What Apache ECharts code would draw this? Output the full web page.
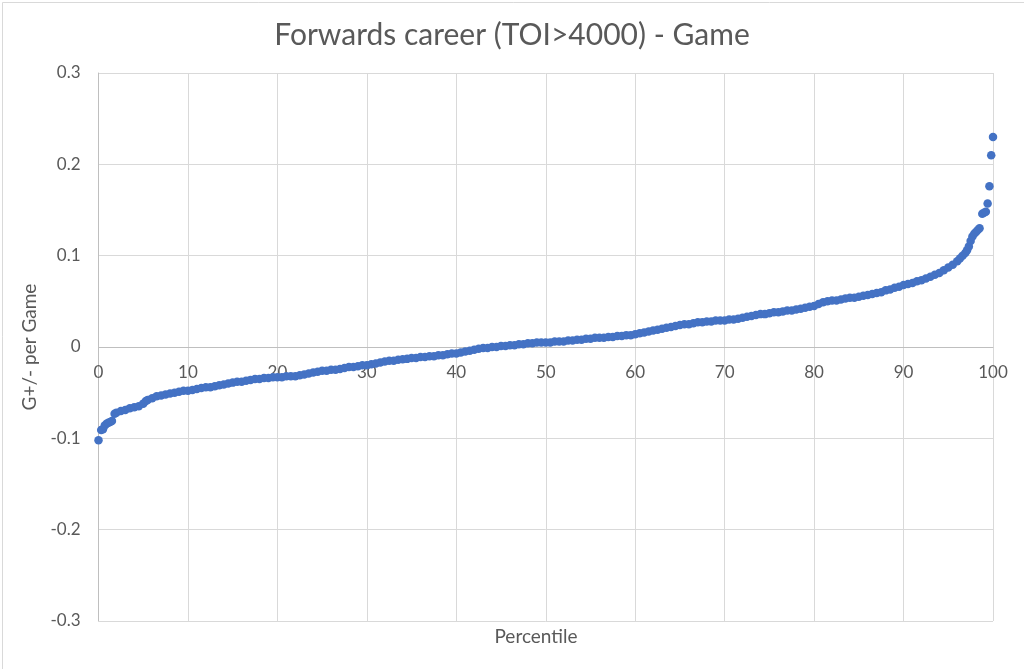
<!DOCTYPE html>
<html>
<head>
<meta charset="utf-8">
<script src="https://cdn.jsdelivr.net/npm/echarts@6/dist/echarts.min.js"></script>
<style>html,body{margin:0;padding:0;background:#fff;}#c{width:1024px;height:669px;}</style>
</head>
<body>
<div id="c"></div>
<script>
var titleText = 'Forwards career (TOI>4000) - Game';
var xAxisTitle = 'Percentile';
var yAxisTitle = 'G+/- per Game';
var xTicks = [0, 10, 20, 30, 40, 50, 60, 70, 80, 90, 100];
var yTicks = [-0.3, -0.2, -0.1, 0, 0.1, 0.2, 0.3];

var percentiles = [
  0.0, 0.3, 0.5, 0.7, 0.9, 1.1, 1.3, 1.5, 1.8, 2.0, 2.5, 3.0, 3.5, 4.0, 4.5, 5.0, 5.3, 5.5, 6.0, 6.5,
  7.0, 7.5, 8.0, 8.5, 9.0, 9.5, 10.0, 10.5, 11.0, 11.5, 12.0, 12.5, 13.0, 13.5, 14.0, 14.5, 15.0, 15.5, 16.0, 16.5,
  17.0, 17.5, 18.0, 18.5, 19.0, 19.5, 20.0, 20.5, 21.0, 21.5, 22.0, 22.5, 23.0, 23.5, 24.0, 24.5, 25.0, 25.5, 26.0, 26.5,
  27.0, 27.5, 28.0, 28.5, 29.0, 29.5, 30.0, 30.5, 31.0, 31.5, 32.0, 32.5, 33.0, 33.5, 34.0, 34.5, 35.0, 35.5, 36.0, 36.5,
  37.0, 37.5, 38.0, 38.5, 39.0, 39.5, 40.0, 40.5, 41.0, 41.5, 42.0, 42.5, 43.0, 43.5, 44.0, 44.5, 45.0, 45.5, 46.0, 46.5,
  47.0, 47.5, 48.0, 48.5, 49.0, 49.5, 50.0, 50.5, 51.0, 51.5, 52.0, 52.5, 53.0, 53.5, 54.0, 54.5, 55.0, 55.5, 56.0, 56.5,
  57.0, 57.5, 58.0, 58.5, 59.0, 59.5, 60.0, 60.5, 61.0, 61.5, 62.0, 62.5, 63.0, 63.5, 64.0, 64.5, 65.0, 65.5, 66.0, 66.5,
  67.0, 67.5, 68.0, 68.5, 69.0, 69.5, 70.0, 70.5, 71.0, 71.5, 72.0, 72.5, 73.0, 73.5, 74.0, 74.5, 75.0, 75.5, 76.0, 76.5,
  77.0, 77.5, 78.0, 78.5, 79.0, 79.5, 80.0, 80.5, 81.0, 81.5, 82.0, 82.5, 83.0, 83.5, 84.0, 84.5, 85.0, 85.5, 86.0, 86.5,
  87.0, 87.5, 88.0, 88.5, 89.0, 89.5, 90.0, 90.5, 91.0, 91.5, 92.0, 92.5, 93.0, 93.5, 94.0, 94.5, 95.0, 95.5, 96.0, 96.3,
  96.6, 96.9, 97.1, 97.3, 97.5, 97.7, 97.9, 98.1, 98.3, 98.5, 98.8, 99.0, 99.2, 99.4, 99.6, 99.8, 100.0
];
var gPerGame = [
  -0.102, -0.091, -0.090, -0.086, -0.084, -0.083, -0.082, -0.081, -0.073, -0.072, -0.070, -0.069, -0.067, -0.066, -0.065, -0.062, -0.059, -0.058, -0.056, -0.054,
  -0.053, -0.052, -0.051, -0.050, -0.049, -0.048, -0.048, -0.047, -0.046, -0.045, -0.044, -0.044, -0.043, -0.042, -0.041, -0.040, -0.039, -0.038, -0.038, -0.037,
  -0.036, -0.035, -0.035, -0.034, -0.034, -0.033, -0.033, -0.033, -0.032, -0.032, -0.032, -0.031, -0.030, -0.029, -0.028, -0.027, -0.026, -0.026, -0.025, -0.025,
  -0.024, -0.023, -0.022, -0.022, -0.021, -0.020, -0.020, -0.019, -0.018, -0.017, -0.016, -0.015, -0.015, -0.014, -0.0135, -0.013, -0.012, -0.012, -0.011, -0.011,
  -0.010, -0.010, -0.009, -0.009, -0.008, -0.007, -0.007, -0.006, -0.005, -0.004, -0.003, -0.002, -0.001, -0.001, 0.000, 0.000, 0.001, 0.001, 0.002, 0.002,
  0.003, 0.003, 0.004, 0.004, 0.005, 0.005, 0.005, 0.005, 0.006, 0.006, 0.006, 0.007, 0.007, 0.008, 0.008, 0.009, 0.009, 0.010, 0.010, 0.010,
  0.011, 0.011, 0.012, 0.012, 0.013, 0.013, 0.014, 0.015, 0.016, 0.017, 0.018, 0.019, 0.020, 0.021, 0.022, 0.023, 0.024, 0.025, 0.025, 0.026,
  0.027, 0.027, 0.028, 0.028, 0.029, 0.029, 0.029, 0.030, 0.030, 0.031, 0.032, 0.033, 0.034, 0.035, 0.036, 0.036, 0.037, 0.038, 0.038, 0.039,
  0.040, 0.040, 0.041, 0.042, 0.043, 0.044, 0.045, 0.047, 0.049, 0.050, 0.051, 0.051, 0.052, 0.053, 0.054, 0.054, 0.055, 0.056, 0.057, 0.058,
  0.059, 0.060, 0.062, 0.063, 0.065, 0.066, 0.068, 0.069, 0.070, 0.072, 0.073, 0.075, 0.077, 0.079, 0.081, 0.084, 0.087, 0.090, 0.094, 0.097,
  0.100, 0.103, 0.106, 0.110, 0.116, 0.121, 0.124, 0.126, 0.128, 0.130, 0.146, 0.147, 0.148, 0.157, 0.176, 0.210, 0.230
];

var points = percentiles.map(function (p, i) { return [p, gPerGame[i]]; });

var textColor = '#595959';
var fontFamily = 'Lato, "Open Sans", sans-serif';

var chart = echarts.init(document.getElementById('c'), null, { renderer: 'canvas' });
chart.setOption({
  backgroundColor: '#ffffff',
  animation: false,
  textStyle: { fontFamily: fontFamily },
  title: {
    text: titleText,
    left: 'center',
    top: 15,
    textStyle: { color: textColor, fontSize: 30, fontWeight: 'normal', fontFamily: fontFamily }
  },
  grid: { left: 98.5, right: 31, top: 73, bottom: 48, containLabel: false },
  xAxis: {
    type: 'value',
    min: xTicks[0],
    max: xTicks[xTicks.length - 1],
    interval: 10,
    axisLine: { show: true, onZero: true, lineStyle: { color: '#bfbfbf', width: 1 } },
    axisTick: { show: false },
    axisLabel: { color: textColor, fontSize: 17, margin: -257, fontFamily: fontFamily },
    splitLine: { show: true, lineStyle: { color: '#d9d9d9', width: 1 } }
  },
  yAxis: {
    type: 'value',
    min: yTicks[0],
    max: yTicks[yTicks.length - 1],
    interval: 0.1,
    name: yAxisTitle,
    nameLocation: 'middle',
    nameGap: 56,
    nameTextStyle: { color: textColor, fontSize: 19, fontFamily: fontFamily },
    axisLine: { show: true, lineStyle: { color: '#bfbfbf', width: 1 } },
    axisTick: { show: false },
    axisLabel: {
      color: textColor, fontSize: 17, margin: 18, fontFamily: fontFamily,
      formatter: function (v) { return String(Math.round(v * 10) / 10); }
    },
    splitLine: { show: true, lineStyle: { color: '#d9d9d9', width: 1 } }
  },
  graphic: [
    {
      type: 'rect', left: 0, top: 0, silent: true,
      shape: { x: 0.5, y: 0.5, width: 1023, height: 668 },
      style: { fill: 'none', stroke: '#d9d9d9', lineWidth: 1 }
    },
    {
      type: 'text', x: 536, y: 637, silent: true,
      style: { text: xAxisTitle, fill: textColor, fontSize: 19, fontFamily: fontFamily, align: 'center', verticalAlign: 'middle' }
    }
  ],
  series: [{
    type: 'scatter',
    data: points,
    symbol: 'circle',
    symbolSize: 8.5,
    itemStyle: { color: '#4472c4', opacity: 1 }
  }]
});
</script>
</body>
</html>
